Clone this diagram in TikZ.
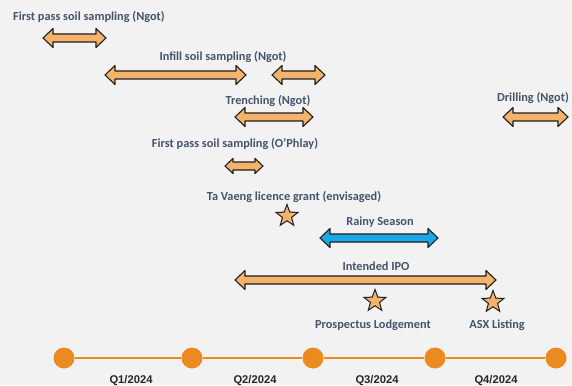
\documentclass[tikz,border=0pt]{standalone}
\usepackage{fontspec}
\setmainfont{Carlito}
\newfontfamily\qfont{Liberation Sans}
\usetikzlibrary{shapes.geometric}
\definecolor{bg}{HTML}{F2F2F2}
\definecolor{txt}{HTML}{44546A}
\definecolor{orfill}{HTML}{F4B26B}
\definecolor{bluefill}{HTML}{1CA7E6}
\definecolor{dotc}{HTML}{EA8A1F}
\definecolor{edgec}{HTML}{1E1E1E}
\definecolor{qtxt}{HTML}{262626}
\newcommand{\dblarr}[6]{%
  \filldraw[arrowbox, fill=#6] (#1,#3) -- (#1+#4,#3-#5) -- (#1+#4,#3-4) -- (#2-#4,#3-4) -- (#2-#4,#3-#5) -- (#2,#3) -- (#2-#4,#3+#5) -- (#2-#4,#3+4) -- (#1+#4,#3+4) -- (#1+#4,#3+#5) -- cycle;}
\tikzset{
  arrowbox/.style={draw=edgec, line width=1.1pt, line join=round},
  lbl/.style={text=txt, inner sep=0pt, font=\bfseries\fontsize{12.3}{14}\selectfont},
  qlbl/.style={text=qtxt, inner sep=0pt, font=\qfont\bfseries\fontsize{11.2}{13}\selectfont},
  starnode/.style={star, star points=5, star point ratio=2.4, minimum size=23pt, inner sep=0pt, draw=edgec, line width=1pt, fill=orfill},
  dotnode/.style={circle, fill=dotc, minimum size=21pt, inner sep=0pt},
}
\begin{document}
\begin{tikzpicture}[x=1pt,y=-1pt]
\fill[bg] (0,0) rectangle (572,385);
\useasboundingbox (0,0) rectangle (572,385);

% labels
\node[lbl] (t1) at (89,17) {First pass soil sampling (Ngot)};
\node[lbl] (t2) at (223,57) {Infill soil sampling (Ngot)};
\node[lbl] (t3) at (268,101) {Trenching (Ngot)};
\node[lbl] (t4) at (235,144) {First pass soil sampling (O’Phlay)};
\node[lbl] (t5) at (533,98) {Drilling (Ngot)};
\node[lbl] (t6) at (294,197) {Ta Vaeng licence grant (envisaged)};
\node[lbl] (t7) at (380,222) {Rainy Season};
\node[lbl] (t8) at (376,266) {Intended IPO};
\node[lbl] (t9) at (373,325) {Prospectus Lodgement};
\node[lbl] (t10) at (497,325) {ASX Listing};

% arrows
\dblarr{43}{106}{38}{10}{9.5}{orfill}
\dblarr{105}{246}{75}{10}{9.5}{orfill}
\dblarr{272}{325}{75}{10}{9.5}{orfill}
\dblarr{235}{313}{117}{10}{9.5}{orfill}
\dblarr{225}{263}{166}{8}{7.5}{orfill}
\dblarr{503}{568}{117}{10}{9.5}{orfill}
\dblarr{320}{438}{238}{10}{9.5}{bluefill}
\dblarr{235}{496}{280}{10}{9.5}{orfill}

% stars
\node[starnode] (s1) at (287,216) {};
\node[starnode] (s2) at (375,301) {};
\node[starnode] (s3) at (493,302) {};

% timeline
\node[dotnode] (d1) at (64,358) {};
\node[dotnode] (d2) at (192,358) {};
\node[dotnode] (d3) at (313,358) {};
\node[dotnode] (d4) at (435,358) {};
\node[dotnode] (d5) at (556,358) {};
\draw[dotc, line width=1.3pt] (d1) -- (d2) (d2) -- (d3) (d3) -- (d4) (d4) -- (d5);

\node[qlbl] (q1) at (131,381) {Q1/2024};
\node[qlbl] (q2) at (255,381) {Q2/2024};
\node[qlbl] (q3) at (377,381) {Q3/2024};
\node[qlbl] (q4) at (496,381) {Q4/2024};
\end{tikzpicture}
\end{document}
